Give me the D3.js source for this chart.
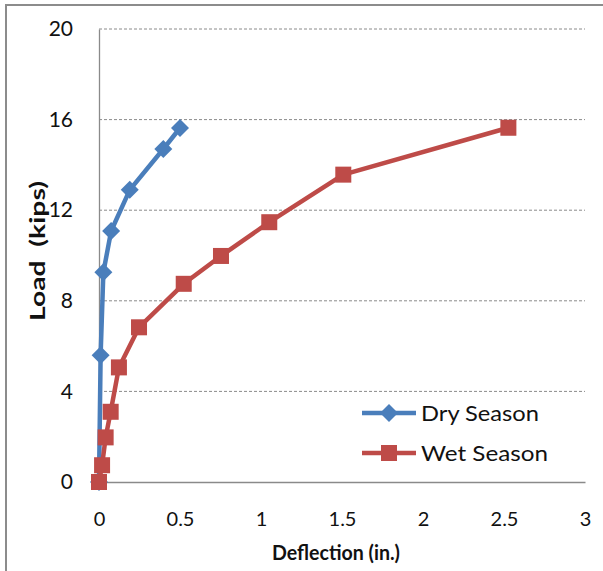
<!DOCTYPE html>
<html><head><meta charset="utf-8">
<script src="https://cdn.jsdelivr.net/npm/d3@7"></script>
<style>body{margin:0;background:#fff}svg{display:block}</style>
</head><body><svg id="c" width="603" height="571"></svg>
<script>
const xTicks = [0, 0.5, 1, 1.5, 2, 2.5, 3];
const yTicks = [0, 4, 8, 12, 16, 20];
const dryX = [0, 0.01, 0.027, 0.075, 0.19, 0.397, 0.5];
const dryY = [0, 5.6, 9.26, 11.08, 12.9, 14.7, 15.63];
const wetX = [0, 0.019, 0.041, 0.072, 0.123, 0.247, 0.523, 0.753, 1.051, 1.508, 2.527];
const wetY = [0, 0.74, 1.97, 3.1, 5.06, 6.83, 8.75, 9.98, 11.47, 13.57, 15.64];
const seriesNames = ["Dry Season", "Wet Season"];

const svg = d3.select("#c");
const font = "Lato, 'Open Sans', sans-serif";
const x = d3.scaleLinear().domain([0, 3]).range([99, 585]);
const y = d3.scaleLinear().domain([0, 20]).range([482, 29]);

// outer frame
svg.append("rect").attr("x", 6).attr("y", 5).attr("width", 620).attr("height", 600)
  .attr("fill", "none").attr("stroke", "#8c8c8c").attr("stroke-width", 2);

// gridlines
svg.append("g").selectAll("line").data(yTicks.filter(d => d > 0)).join("line")
  .attr("x1", x(0)).attr("x2", x(3)).attr("y1", d => y(d)).attr("y2", d => y(d))
  .attr("stroke", "#8a8a8a").attr("stroke-width", 1).attr("stroke-dasharray", "3,2");

// axes
const yAxis = d3.axisLeft(y).tickValues(yTicks).tickSize(0).tickPadding(26);
const gy = svg.append("g").attr("transform", `translate(${x(0)},0)`).call(yAxis);
gy.select(".domain").attr("stroke", "#8a8a8a").attr("stroke-width", 1.3);
gy.selectAll("text").attr("font-family", font).attr("font-size", 21).attr("fill", "#111");

const xAxis = d3.axisBottom(x).tickValues(xTicks).tickSize(0).tickPadding(30).tickFormat(d3.format("~g"));
const gx = svg.append("g").attr("transform", `translate(0,${y(0)})`).call(xAxis);
gx.select(".domain").attr("stroke", "#8a8a8a").attr("stroke-width", 1.3);
gx.selectAll("text").attr("font-family", font).attr("font-size", 20).attr("fill", "#111");

// axis titles
svg.append("text").attr("transform", "translate(45,251) rotate(-90)")
  .attr("text-anchor", "middle").attr("font-family", font).attr("font-weight", "bold")
  .attr("font-size", 20).attr("fill", "#111").attr("xml:space", "preserve")
  .attr("textLength", 140).attr("lengthAdjust", "spacingAndGlyphs").text("Load  (kips)");
svg.append("text").attr("x", 336).attr("y", 560)
  .attr("text-anchor", "middle").attr("font-family", font).attr("font-weight", "bold")
  .attr("font-size", 21).attr("fill", "#111").attr("textLength", 128).attr("lengthAdjust", "spacingAndGlyphs")
  .text("Deflection (in.)");

const colors = ["#4a7ebb", "#be4b48"];
const dry = dryX.map((v, i) => [v, dryY[i]]);
const wet = wetX.map((v, i) => [v, wetY[i]]);
const line = d3.line().x(d => x(d[0])).y(d => y(d[1]));

const diamond = (cx, cy, r) => `M${cx},${cy - r}L${cx + r},${cy}L${cx},${cy + r}L${cx - r},${cy}Z`;

function drawSeries(data, color, shape) {
  svg.append("path").datum(data).attr("d", line).attr("fill", "none")
    .attr("stroke", color).attr("stroke-width", 4.5).attr("stroke-linejoin", "round");
  if (shape === "diamond") {
    svg.append("g").selectAll("path").data(data).join("path")
      .attr("d", d => diamond(x(d[0]), y(d[1]), 9)).attr("fill", color);
  } else {
    svg.append("g").selectAll("rect").data(data).join("rect")
      .attr("x", d => x(d[0]) - 8).attr("y", d => y(d[1]) - 8)
      .attr("width", 16).attr("height", 16).attr("fill", color);
  }
}
drawSeries(dry, colors[0], "diamond");
drawSeries(wet, colors[1], "square");

// legend
const lg = svg.append("g");
const legW = [118, 127];
seriesNames.forEach((name, i) => {
  const ly = 413 + i * 40;
  lg.append("line").attr("x1", 362).attr("x2", 416).attr("y1", ly).attr("y2", ly)
    .attr("stroke", colors[i]).attr("stroke-width", 4.5);
  if (i === 0) lg.append("path").attr("d", diamond(389, ly, 9)).attr("fill", colors[i]);
  else lg.append("rect").attr("x", 381).attr("y", ly - 8).attr("width", 16).attr("height", 16).attr("fill", colors[i]);
  lg.append("text").attr("x", 421).attr("y", ly + 8).attr("font-family", font)
    .attr("font-size", 22).attr("fill", "#111").attr("textLength", legW[i])
    .attr("lengthAdjust", "spacingAndGlyphs").text(name);
});
</script></body></html>
